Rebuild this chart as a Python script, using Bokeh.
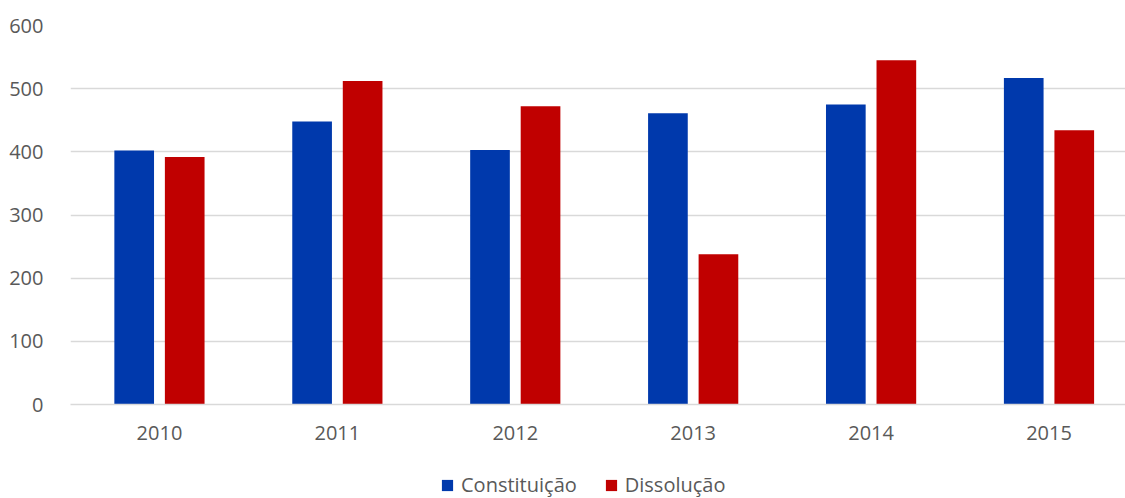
from bokeh.plotting import figure
from bokeh.models import ColumnDataSource, Range1d, Legend, LegendItem, FixedTicker, SingleIntervalTicker
from bokeh.layouts import column
from bokeh.embed import file_html
from bokeh.resources import INLINE

years = ["2010", "2011", "2012", "2013", "2014", "2015"]
constituicao = [402, 448, 403, 461, 475, 517]
dissolucao = [392, 512, 472, 238, 545, 434]
series_names = ["Constituição", "Dissolução"]
colors = ["#0039AC", "#C00000"]

idx = list(range(len(years)))
src = ColumnDataSource(dict(
    x=idx,
    xb=[i - 0.142 for i in idx],
    xr=[i + 0.142 for i in idx],
    c=constituicao,
    d=dissolucao,
))

FONT = "Open Sans"
TXT = "#595959"

p = figure(width=1125, height=460, output_backend="svg", toolbar_location=None,
           x_range=Range1d(-0.5, 5.43), y_range=Range1d(0, 600),
           min_border_left=70, min_border_right=0, min_border_top=25, min_border_bottom=56)
p.outline_line_color = None
p.background_fill_color = "white"
p.border_fill_color = "white"

p.vbar(x="xb", top="c", width=0.223, source=src, fill_color=colors[0], line_color=None)
p.vbar(x="xr", top="d", width=0.223, source=src, fill_color=colors[1], line_color=None)

p.xgrid.visible = False
p.ygrid.grid_line_color = "#D9D9D9"
p.ygrid.grid_line_width = 1.3
p.yaxis.ticker = SingleIntervalTicker(interval=100)
p.yaxis.axis_line_color = None
p.yaxis.major_tick_line_color = None
p.yaxis.minor_tick_line_color = None
p.yaxis.major_tick_out = 0
p.yaxis.major_label_standoff = 23
p.yaxis.major_label_text_font = FONT
p.yaxis.major_label_text_font_size = "20px"
p.yaxis.major_label_text_color = TXT

p.xaxis.ticker = FixedTicker(ticks=idx)
p.xaxis.major_label_overrides = {i: y for i, y in zip(idx, years)}
p.xaxis.axis_line_color = "#D9D9D9"
p.xaxis.axis_line_width = 1.3
p.xaxis.major_tick_line_color = None
p.xaxis.minor_tick_line_color = None
p.xaxis.major_tick_out = 0
p.xaxis.major_label_standoff = 21
p.xaxis.major_label_text_font = FONT
p.xaxis.major_label_text_font_size = "20px"
p.xaxis.major_label_text_color = TXT

# legend strip below the chart
q = figure(width=1125, height=40, output_backend="svg", toolbar_location=None,
           x_range=Range1d(0, 1055), y_range=Range1d(0, 40),
           min_border_left=70, min_border_right=0, min_border_top=0, min_border_bottom=0)
q.axis.visible = False
q.grid.visible = False
q.outline_line_color = None
q.border_fill_color = "white"
items = []
for name, col in zip(series_names, colors):
    rr = q.vbar(x=[-1000], top=[1], width=1, fill_color=col, line_color=None)
    items.append(LegendItem(label=name, renderers=[rr]))

legend = Legend(items=items, orientation="horizontal", location=(370, 2),
                glyph_width=14, glyph_height=14, label_standoff=7, spacing=27,
                padding=0, margin=0, border_line_color=None, background_fill_alpha=0,
                label_text_font=FONT, label_text_font_size="20px", label_text_color=TXT)
q.add_layout(legend, "center")

layout = column(p, q, spacing=0)
open("out.html", "w").write(file_html(layout, INLINE))
